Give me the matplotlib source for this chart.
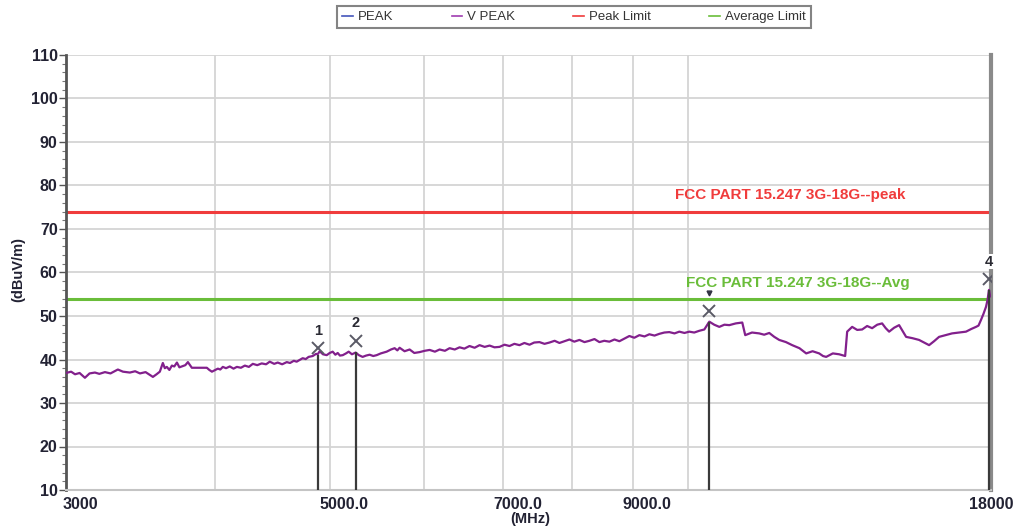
import matplotlib.pyplot as plt
import matplotlib.transforms as mtransforms
from matplotlib.lines import Line2D
from matplotlib.ticker import MultipleLocator, NullFormatter

# ---- data ----
freq_mhz = [3000, 3030, 3053, 3080, 3112, 3140, 3173, 3200, 3235, 3270, 3317, 3350,
            3395, 3430, 3462, 3500, 3550, 3575, 3598, 3619, 3633, 3647, 3665, 3683,
            3700, 3719, 3737, 3755, 3780, 3799, 3828, 3888, 3941, 3960, 3980, 4000,
            4026, 4045, 4065, 4090, 4120, 4150, 4177, 4210, 4242, 4275, 4308, 4345,
            4383, 4420, 4452, 4490, 4521, 4560, 4601, 4630, 4664, 4690, 4718, 4745,
            4773, 4800, 4838, 4870, 4885, 4904, 4935, 4971, 5000, 5029, 5055, 5078,
            5100, 5128, 5160, 5187, 5220, 5258, 5290, 5329, 5365, 5402, 5440, 5476,
            5520, 5583, 5630, 5670, 5700, 5725, 5780, 5837, 5890, 5951, 6010, 6068,
            6130, 6186, 6250, 6307, 6370, 6430, 6490, 6555, 6620, 6684, 6750, 6815,
            6880, 6947, 7015, 7083, 7150, 7221, 7290, 7363, 7430, 7506, 7580, 7653,
            7730, 7802, 7880, 7955, 8030, 8110, 8190, 8269, 8350, 8430, 8510, 8595,
            8680, 8763, 8850, 8934, 9020, 9109, 9200, 9287, 9380, 9468, 9560, 9653,
            9750, 9842, 9940, 10034, 10130, 10230, 10330, 10430, 10530, 10634, 10740,
            10842, 10980, 11118, 11182, 11330, 11489, 11600, 11715, 11830, 11943,
            12100, 12247, 12420, 12584, 12740, 12904, 13000, 13080, 13250, 13413,
            13570, 13623, 13755, 13890, 14024, 14160, 14298, 14440, 14577, 14680,
            14777, 14920, 15065, 15170, 15271, 15460, 15659, 15810, 15966, 16120,
            16277, 16480, 16692, 16920, 17149, 17320, 17485, 17570, 17655, 17740,
            17826, 17880, 17930, 17970]
v_peak = [36.9, 37.2, 36.6, 36.9, 35.8, 36.8, 37.0, 36.7, 37.1, 36.8, 37.7, 37.2,
          37.0, 37.3, 36.8, 37.1, 36.0, 36.6, 37.2, 39.2, 38.0, 38.3, 37.6, 38.6,
          38.4, 39.3, 38.2, 38.4, 38.7, 39.4, 38.1, 38.1, 38.1, 37.6, 37.2, 37.5,
          37.9, 37.7, 38.3, 38.0, 38.4, 37.9, 38.3, 38.1, 38.6, 38.3, 39.0, 38.7,
          39.1, 38.9, 39.5, 39.0, 39.3, 38.9, 39.4, 39.2, 39.7, 39.5, 39.9, 40.3,
          40.1, 40.6, 40.8, 41.3, 41.2, 41.9, 41.2, 41.0, 41.5, 41.8, 41.1, 41.5,
          40.9, 41.0, 41.4, 41.8, 41.2, 41.6, 41.0, 40.6, 40.9, 41.1, 40.8, 41.0,
          41.4, 41.8, 42.3, 42.6, 42.1, 42.7, 41.9, 42.3, 41.5, 41.7, 42.0, 42.2,
          41.8, 42.3, 42.0, 42.6, 42.3, 42.8, 42.5, 43.1, 42.7, 43.3, 42.9, 43.2,
          42.8, 42.9, 43.4, 43.1, 43.6, 43.3, 43.8, 43.4, 43.9, 44.0, 43.6, 43.9,
          44.3, 43.8, 44.2, 44.6, 44.1, 44.5, 44.0, 44.3, 44.7, 44.0, 44.3, 44.1,
          44.6, 44.2, 44.8, 45.4, 45.0, 45.6, 45.3, 45.8, 45.5, 45.9, 46.2, 46.3,
          46.0, 46.4, 46.1, 46.4, 46.2, 46.6, 46.9, 48.7, 48.0, 47.5, 48.0,
          47.9, 48.3, 48.5, 45.6, 46.2, 46.0, 45.7, 46.1, 45.2, 44.5,
          44.0, 43.3, 42.6, 41.4, 41.9, 41.4, 40.8, 40.6, 41.4, 41.2,
          40.8, 46.4, 47.5, 46.8, 46.9, 47.7, 47.2, 48.0, 48.3, 47.2,
          46.4, 47.3, 47.9, 46.5, 45.2, 44.9, 44.5, 43.9, 43.3, 44.2,
          45.2, 45.6, 46.0, 46.2, 46.4, 47.0, 47.5, 47.8, 49.1, 50.5,
          52.1, 53.7, 56.0, 54.5]

peak_limit = 74.0
avg_limit = 54.0

marker_ids = ["1", "2", "3", "4"]
marker_freq = [4885, 5258, 10430, 17930]
marker_level = [42.6, 44.3, 51.1, 58.5]
marker_line_top = [41.0, 41.7, 48.6, 56.0]

xtick_vals = [3000, 5000, 7000, 9000, 18000]
xtick_labels = ["3000", "5000.0", "7000.0", "9000.0", "18000"]
xgrid_vals = [4000, 5000, 6000, 7000, 8000, 9000, 10000]

# ---- figure ----
plt.rcParams['font.family'] = ['Liberation Sans', 'DejaVu Sans']
fig = plt.figure(figsize=(10.36, 5.31), dpi=100)
ax = fig.add_axes([66 / 1036, 41 / 531, 925 / 1036, 435 / 531])

ax.set_xscale('log')
ax.set_xlim(3000, 18000)
ax.set_ylim(10, 110)

# grid
ax.yaxis.set_major_locator(MultipleLocator(10))
ax.yaxis.set_minor_locator(MultipleLocator(2))
ax.grid(axis='y', which='major', color='#d4d4d4', linewidth=1.3)
for g in xgrid_vals:
    ax.axvline(g, color='#d4d4d4', linewidth=1.3, zorder=0)

# limit lines
ax.axhline(peak_limit, color='#f03c3c', linewidth=2.2, zorder=2)
ax.axhline(avg_limit, color='#6abd3a', linewidth=2.2, zorder=2)
ax.text(12200, peak_limit + 2.2, "FCC PART 15.247 3G-18G--peak", color='#f03c3c',
        fontsize=11, fontweight='bold', ha='center', va='bottom')
ax.text(12390, avg_limit + 2.0, "FCC PART 15.247 3G-18G--Avg", color='#6abd3a',
        fontsize=11, fontweight='bold', ha='center', va='bottom')

# trace
ax.plot(freq_mhz, v_peak, color='#82208c', linewidth=1.6, zorder=3)

# markers
ax.vlines(marker_freq, 10, marker_line_top, colors='#3a3a3a', linewidth=1.6, zorder=4)
ax.plot(marker_freq, marker_level, linestyle='none', marker='x', markersize=8,
        markeredgewidth=1.4, color='#5a5a66', zorder=5)
for mid, f, lv in zip(marker_ids, marker_freq, marker_level):
    if mid == "3":
        ax.plot(f, lv + 4.3, marker='v', markersize=3.5, color='#333344', zorder=5)
    else:
        ax.text(f, lv + 2.4, mid, fontsize=10.5, fontweight='bold', color='#2a2a33',
                ha='center', va='bottom', zorder=6,
                bbox=dict(facecolor='white', edgecolor='none', pad=0.5) if mid == "4" else None)

# axes style
ax.spines['top'].set_visible(False)
ax.spines['left'].set_color('#555555')
ax.spines['left'].set_linewidth(2)
ax.spines['bottom'].set_color('#c4c4c4')
ax.spines['bottom'].set_linewidth(1.5)
ax.spines['right'].set_color('#8a8a8a')
ax.spines['right'].set_linewidth(3)

ax.set_xticks(xtick_vals)
ax.set_xticklabels(xtick_labels)
ax.xaxis.set_minor_formatter(NullFormatter())
ax.tick_params(axis='x', which='both', length=0, pad=5)
ax.tick_params(axis='y', which='major', direction='out', length=5, width=1, color='#555555', pad=1)
ax.tick_params(axis='y', which='minor', direction='out', length=3, width=0.8, color='#777777')
for lab in ax.get_xticklabels() + ax.get_yticklabels():
    lab.set_fontweight('bold')
    lab.set_fontsize(11.5)
    lab.set_color('#222233')
# shift x labels like the original instrument plot
for lab in ax.get_xticklabels()[:-1]:
    lab.set_transform(lab.get_transform() + mtransforms.ScaledTranslation(14 / 100, 0, fig.dpi_scale_trans))

fig.text(530 / 1036, 1 - 519 / 531, "(MHz)", fontsize=10.5, fontweight='bold',
         color='#222233', ha='center', va='center')
fig.text(18 / 1036, 1 - 270 / 531, "(dBuV/m)", fontsize=10.5, fontweight='bold',
         color='#222233', ha='center', va='center', rotation=90)

# legend
handles = [Line2D([], [], color='#4455bb', lw=1.2),
           Line2D([], [], color='#a03cb0', lw=1.2),
           Line2D([], [], color='#f03c3c', lw=1.2),
           Line2D([], [], color='#6abd3a', lw=1.2)]
leg = fig.legend(handles, ["PEAK", "V PEAK", "Peak Limit", "Average Limit"],
                 loc='center', bbox_to_anchor=(574 / 1036, 1 - 17 / 531), ncol=4,
                 fontsize=9.5, handlelength=0.8, handletextpad=0.4, columnspacing=4.4,
                 frameon=True, fancybox=False, shadow=False, borderpad=0.4)
leg.get_frame().set_edgecolor('#666666')
leg.get_frame().set_linewidth(1.5)
for t in leg.get_texts():
    t.set_color('#333333')

fig.savefig('out.png', dpi=100)
